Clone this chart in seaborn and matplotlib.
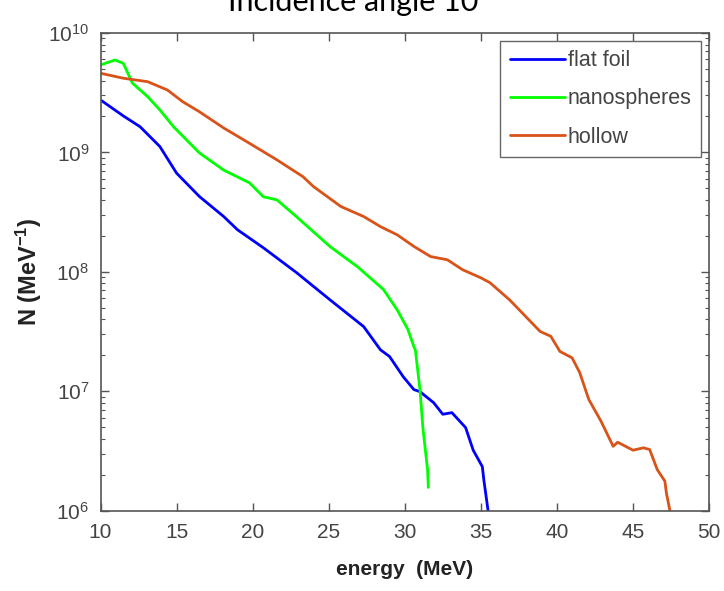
import numpy as np
import pandas as pd
import matplotlib
matplotlib.use("Agg")
import matplotlib.pyplot as plt
import seaborn as sns
from matplotlib.ticker import LogLocator, FixedLocator

# ---- data ----
flat_x = [10.0, 11.5, 12.6, 13.9, 15.0, 16.5, 18.1, 19.0, 20.7, 22.9, 25.1, 27.3, 28.4, 29.0,
          29.9, 30.6, 31.0, 31.9, 32.5, 33.1, 34.0, 34.5, 35.1, 35.2, 35.5]
flat_y = [2.75e9, 2.02e9, 1.64e9, 1.12e9, 6.7e8, 4.27e8, 2.9e8, 2.25e8, 1.59e8, 9.8e7, 5.8e7,
          3.47e7, 2.22e7, 1.95e7, 1.32e7, 1.03e7, 9.9e6, 8.0e6, 6.4e6, 6.6e6, 4.95e6, 3.2e6,
          2.33e6, 1.8e6, 9.5e5]

nano_x = [10.0, 10.95, 11.5, 12.1, 13.1, 13.9, 14.8, 16.5, 18.1, 18.5, 19.8, 20.7, 21.6, 22.9,
          25.1, 26.9, 28.6, 29.5, 30.2, 30.6, 30.7, 31.0, 31.2, 31.5, 31.55]
nano_y = [5.4e9, 5.94e9, 5.57e9, 3.8e9, 2.93e9, 2.27e9, 1.64e9, 9.9e8, 7.1e8, 6.7e8, 5.55e8,
          4.25e8, 4.0e8, 2.88e8, 1.62e8, 1.1e8, 7.1e7, 4.8e7, 3.3e7, 2.36e7, 2.2e7, 1.03e7,
          4.8e6, 2.2e6, 1.56e6]

hollow_x = [10.0, 11.5, 13.1, 14.4, 15.4, 16.5, 18.1, 19.8, 21.6, 23.3, 24.0, 25.8, 27.3, 28.4,
            29.5, 30.6, 31.7, 32.8, 33.8, 35.0, 35.6, 36.9, 38.9, 39.6, 40.2, 41.0, 41.5, 42.1,
            42.9, 43.7, 44.0, 45.0, 45.7, 46.1, 46.6, 47.1, 47.2, 47.5]
hollow_y = [4.6e9, 4.18e9, 3.91e9, 3.33e9, 2.66e9, 2.19e9, 1.6e9, 1.19e9, 8.65e8, 6.27e8, 5.17e8,
            3.52e8, 2.9e8, 2.39e8, 2.04e8, 1.63e8, 1.34e8, 1.26e8, 1.04e8, 8.9e7, 8.1e7, 5.8e7,
            3.16e7, 2.88e7, 2.15e7, 1.9e7, 1.43e7, 8.5e6, 5.6e6, 3.45e6, 3.73e6, 3.2e6, 3.35e6,
            3.24e6, 2.2e6, 1.76e6, 1.4e6, 9.0e5]

series_names = ["flat foil", "nanospheres", "hollow"]
colors = ["#0000ff", "#00ff00", "#d95319"]
x_ticks = [10, 15, 20, 25, 30, 35, 40, 45, 50]

df = pd.concat([
    pd.DataFrame({"energy": flat_x, "N": flat_y, "series": series_names[0]}),
    pd.DataFrame({"energy": nano_x, "N": nano_y, "series": series_names[1]}),
    pd.DataFrame({"energy": hollow_x, "N": hollow_y, "series": series_names[2]}),
], ignore_index=True)

sns.set_style("ticks")
plt.rcParams["font.family"] = ["Liberation Sans", "DejaVu Sans"]
plt.rcParams["mathtext.fontset"] = "custom"
plt.rcParams["mathtext.rm"] = "Liberation Sans"
plt.rcParams["mathtext.bf"] = "Liberation Sans:bold"
plt.rcParams["mathtext.it"] = "Liberation Sans:italic"

fig = plt.figure(figsize=(7.24, 5.91), dpi=100)
ax = fig.add_axes([100.5 / 724, 1 - 510.5 / 591, (709 - 100.5) / 724, (510.5 - 33) / 591])

sns.lineplot(data=df, x="energy", y="N", hue="series", hue_order=series_names,
             palette=colors, sort=False, estimator=None, linewidth=2.0, ax=ax)

ax.set_yscale("log")
ax.set_xlim(10, 50)
ax.set_ylim(1e6, 1e10)
ax.xaxis.set_major_locator(FixedLocator(x_ticks))
ax.yaxis.set_major_locator(LogLocator(base=10, numticks=10))
ax.yaxis.set_minor_locator(LogLocator(base=10, subs=np.arange(2, 10), numticks=10))

tick_col = "#444444"
ax.tick_params(which="both", direction="in", top=True, right=True, colors="#555555",
               labelcolor=tick_col, labelsize=15)
ax.tick_params(which="major", length=6, width=1.0)
ax.tick_params(which="minor", length=3, width=0.8)
ax.tick_params(axis="x", pad=9)
ax.tick_params(axis="y", pad=8)
for s in ax.spines.values():
    s.set_color("#555555")
    s.set_linewidth(1.2)
    s.set_visible(True)

ax.set_xlabel("energy  (MeV)", fontsize=15, fontweight="bold", color="#222222", labelpad=13)
ax.set_ylabel(r"N (MeV$^{\mathbf{-1}}$)", fontsize=17, fontweight="bold", color="#222222", labelpad=3)

leg = ax.legend(loc="upper right", frameon=True, fancybox=False, framealpha=1,
                edgecolor="#666666", fontsize=15.5, handlelength=2.55, handletextpad=0.15,
                labelspacing=0.8, borderpad=0.45, borderaxespad=0.35)
leg.get_frame().set_linewidth(1.0)
for t in leg.get_texts():
    t.set_color("#444444")

fig.text(360 / 724, 1 - 11 / 591, "Incidence angle 10°", fontsize=22, family=["Lato", "DejaVu Sans"],
         ha="center", va="baseline", color="black")

fig.savefig("out.png", dpi=100)
